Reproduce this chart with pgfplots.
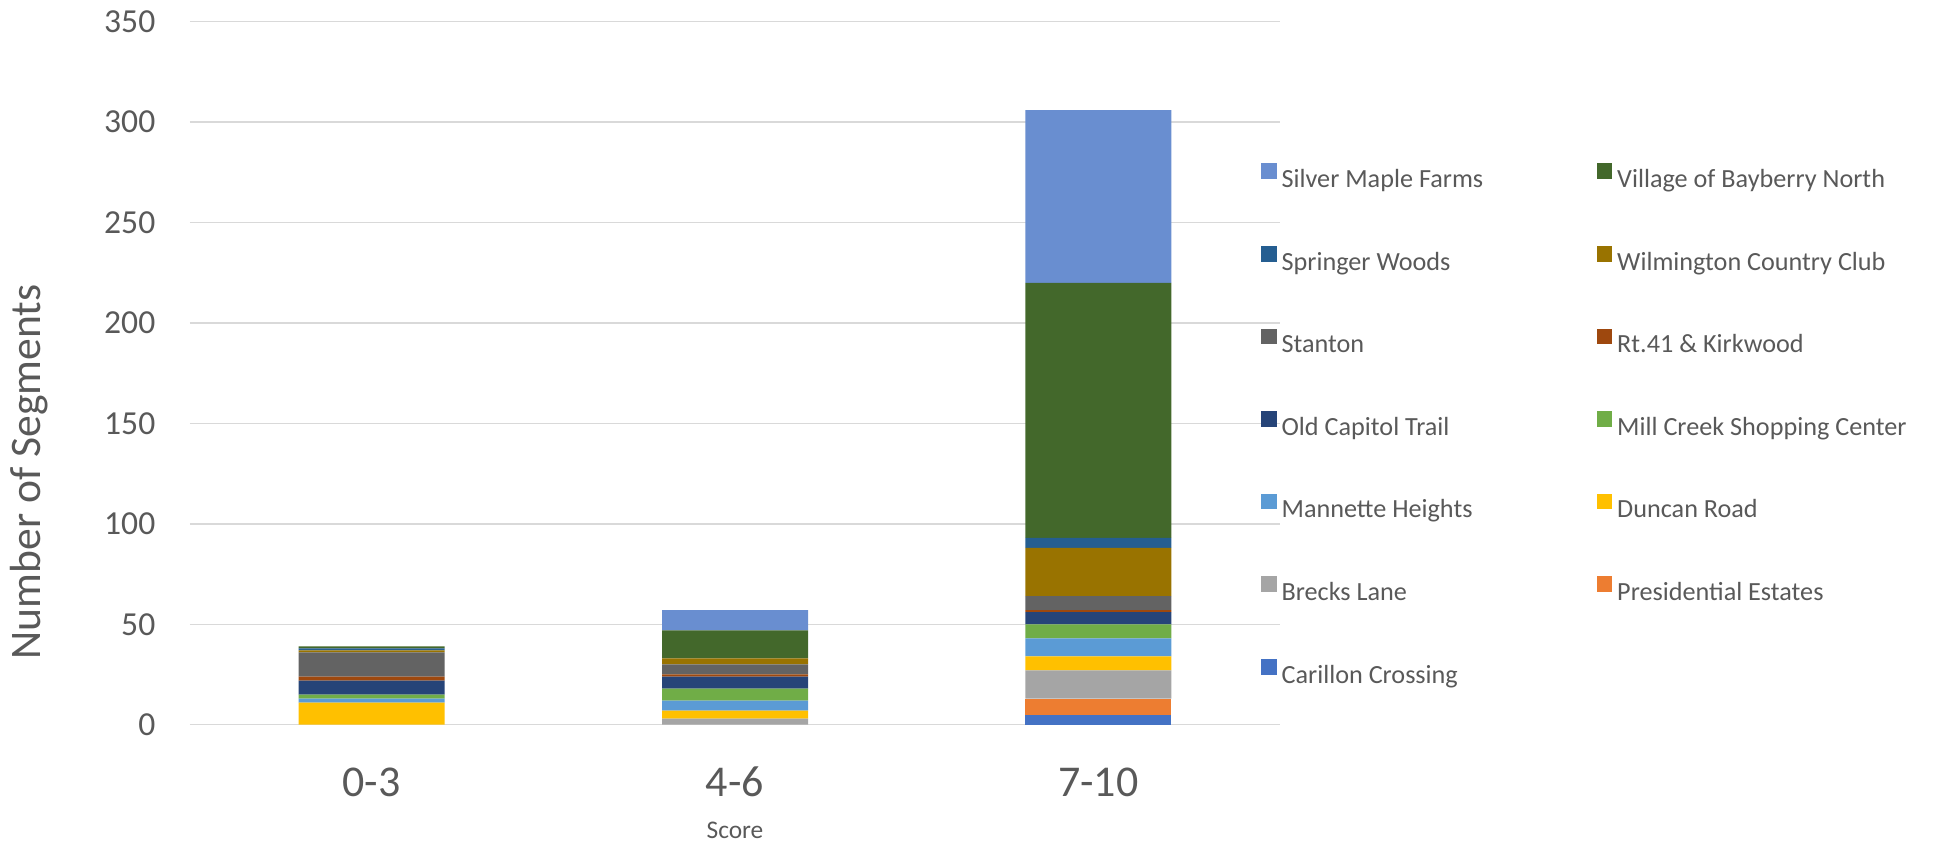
\documentclass[border=0pt]{standalone}
\usepackage{pgfplots}
\pgfplotsset{compat=1.18}
\usepackage{fontspec}
\setmainfont{Carlito}

\definecolor{txt}{HTML}{595959}
\definecolor{gridc}{HTML}{D9D9D9}
\definecolor{cCarillon}{HTML}{4472C4}
\definecolor{cPresidential}{HTML}{ED7D31}
\definecolor{cBrecks}{HTML}{A5A5A5}
\definecolor{cDuncan}{HTML}{FFC000}
\definecolor{cMannette}{HTML}{5B9BD5}
\definecolor{cMillCreek}{HTML}{70AD47}
\definecolor{cOldCapitol}{HTML}{264478}
\definecolor{cRtKirkwood}{HTML}{9E480E}
\definecolor{cStanton}{HTML}{636363}
\definecolor{cWilmington}{HTML}{997300}
\definecolor{cSpringer}{HTML}{255E91}
\definecolor{cBayberry}{HTML}{43682B}
\definecolor{cSilverMaple}{HTML}{698ED0}

\newcommand{\colone}[1]{\makebox[157.5pt][l]{#1}}

\begin{document}
\begin{tikzpicture}
\useasboundingbox (-95pt,-59.15pt) rectangle (872pt,362.35pt);
\begin{axis}[
  at={(0pt,0pt)}, anchor=south west,
  scale only axis,
  width=545pt, height=351.5pt,
  ybar stacked,
  bar width=73pt,
  xmin=-0.5, xmax=2.5,
  ymin=0, ymax=350,
  xtick={0,1,2},
  xticklabels={0-3,4-6,7-10},
  ytick={0,50,...,350},
  ymajorgrids,
  major grid style={draw=gridc, line width=0.75pt},
  axis line style={draw=none},
  major tick length=0pt,
  tick style={draw=none},
  /pgf/number format/assume math mode=true,
  yticklabel style={font=\fontsize{16.8pt}{20pt}\selectfont, text=txt,
    anchor=east, inner sep=0pt, xshift=-17.15pt},
  xticklabel style={font=\fontsize{22pt}{26pt}\selectfont, text=txt,
    anchor=base, inner sep=0pt, yshift=-36pt},
  ylabel={Number of Segments},
  ylabel style={at={(axis description cs:-0.1367,0.3595)}, anchor=base,
    font=\fontsize{21.8pt}{26pt}\selectfont, text=txt, inner sep=0pt},
  xlabel={Score},
  xlabel style={at={(axis description cs:0.5,-0.1616)}, anchor=base,
    font=\fontsize{12.7pt}{15pt}\selectfont, text=txt, inner sep=0pt},
  legend columns=2,
  reverse legend,
  legend cell align=left,
  legend style={at={(0.98257,0.7986)}, anchor=north west,
    draw=none, fill=none, inner sep=0pt, outer sep=0pt,
    row sep=26.2pt, column sep=0pt,
    font=\fontsize{13.1pt}{15pt}\selectfont, text=txt,
    nodes={inner sep=0pt, outer sep=0pt, text height=10pt, text depth=3pt}},
  legend image code/.code={%
    \fill[#1] (0pt,0.8pt) rectangle (7.8pt,8.6pt);
    \path (10.3pt,0pt);},
]
% segments stacked from the bottom: 0-3, 4-6, 7-10
\addplot[fill=cCarillon, draw=none]    coordinates {(0,0)  (1,0)  (2,5)};
\addplot[fill=cPresidential, draw=none] coordinates {(0,0)  (1,0)  (2,8)};
\addplot[fill=cBrecks, draw=none]      coordinates {(0,0)  (1,3)  (2,14)};
\addplot[fill=cDuncan, draw=none]      coordinates {(0,11) (1,4)  (2,7)};
\addplot[fill=cMannette, draw=none]    coordinates {(0,2)  (1,5)  (2,9)};
\addplot[fill=cMillCreek, draw=none]   coordinates {(0,2)  (1,6)  (2,7)};
\addplot[fill=cOldCapitol, draw=none]  coordinates {(0,7)  (1,6)  (2,6)};
\addplot[fill=cRtKirkwood, draw=none]  coordinates {(0,2)  (1,1)  (2,1)};
\addplot[fill=cStanton, draw=none]     coordinates {(0,12) (1,5)  (2,7)};
\addplot[fill=cWilmington, draw=none]  coordinates {(0,1)  (1,3)  (2,24)};
\addplot[fill=cSpringer, draw=none]    coordinates {(0,1)  (1,0)  (2,5)};
\addplot[fill=cBayberry, draw=none]    coordinates {(0,1)  (1,14) (2,127)};
\addplot[fill=cSilverMaple, draw=none] coordinates {(0,0)  (1,10) (2,86)};
\legend{\colone{Carillon Crossing}, Presidential Estates,
  \colone{Brecks Lane}, Duncan Road,
  \colone{Mannette Heights}, Mill Creek Shopping Center,
  \colone{Old Capitol Trail}, Rt.41 \& Kirkwood,
  \colone{Stanton}, Wilmington Country Club,
  \colone{Springer Woods}, Village of Bayberry North,
  \colone{Silver Maple Farms}}
\end{axis}
\end{tikzpicture}
\end{document}
